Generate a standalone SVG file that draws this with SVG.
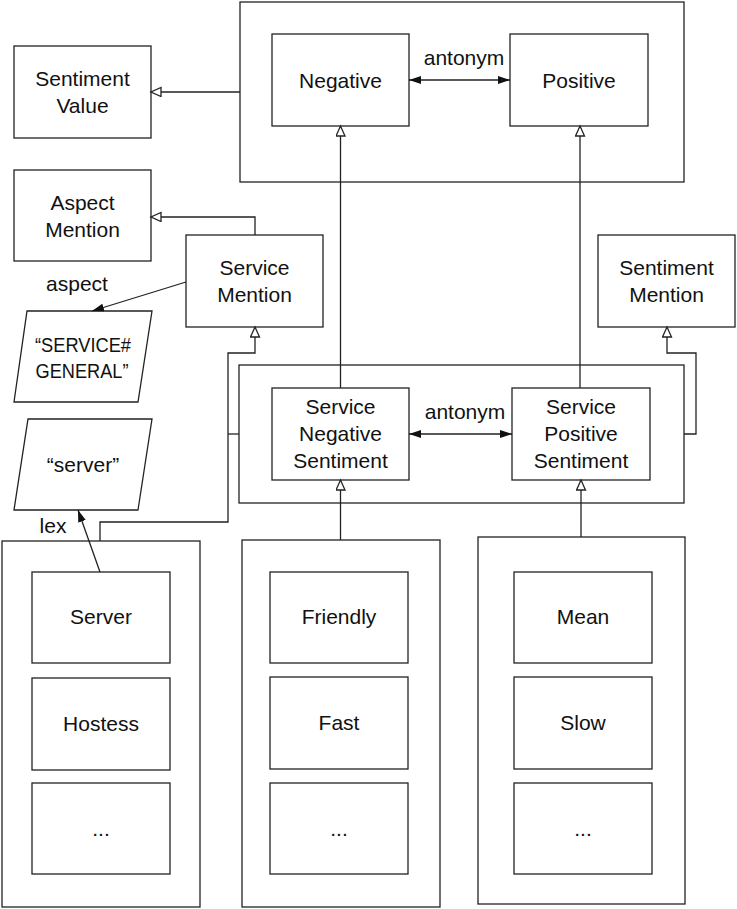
<svg xmlns="http://www.w3.org/2000/svg" width="737" height="909" viewBox="0 0 737 909">
<style>
rect.b, polygon.b { fill: #fff; stroke: #222; stroke-width: 1.3; }
text { font-family: "Liberation Sans", Arial, sans-serif; font-size: 21px; fill: #111; text-anchor: middle; }
.c { fill: none; stroke: #222; stroke-width: 1.3; }
</style>
<defs>
<marker id="hollow" markerUnits="userSpaceOnUse" markerWidth="14" markerHeight="12" refX="11" refY="5" orient="auto">
<path d="M1,0.5 L11,5 L1,9.5 Z" fill="#fff" stroke="#222" stroke-width="1.3"/>
</marker>
<marker id="filled" markerUnits="userSpaceOnUse" markerWidth="14" markerHeight="10" refX="12" refY="4" orient="auto-start-reverse">
<path d="M0,0 L12,4 L0,8 Z" fill="#111"/>
</marker>
</defs>

<g id="sentiment-value-group">
<rect class="b" x="240" y="2" width="444" height="180"/>
</g>
<g id="negative">
<rect class="b" x="272" y="34" width="137" height="92"/>
<text x="340.5" y="88">Negative</text>
</g>
<g id="positive">
<rect class="b" x="510" y="34" width="138" height="92"/>
<text x="579" y="88">Positive</text>
</g>
<g id="sentiment-value">
<rect class="b" x="14" y="46" width="137" height="92"/>
<text x="82.5" y="86">Sentiment</text>
<text x="82.5" y="113">Value</text>
</g>
<g id="aspect-mention">
<rect class="b" x="14" y="170" width="137" height="91"/>
<text x="82.5" y="210">Aspect</text>
<text x="82.5" y="237">Mention</text>
</g>
<g id="service-mention">
<rect class="b" x="186" y="235" width="137" height="92"/>
<text x="254.5" y="275">Service</text>
<text x="254.5" y="302">Mention</text>
</g>
<g id="sentiment-mention">
<rect class="b" x="598" y="235" width="137" height="92"/>
<text x="666.5" y="275">Sentiment</text>
<text x="666.5" y="302">Mention</text>
</g>
<g id="service-general">
<polygon class="b" points="27,311 152,311 138,402 14,402"/>
<text x="83" y="352" textLength="96" lengthAdjust="spacingAndGlyphs">“SERVICE#</text>
<text x="82" y="378" textLength="93" lengthAdjust="spacingAndGlyphs">GENERAL”</text>
</g>
<g id="server-literal">
<polygon class="b" points="28,419 152,419 138,510 14,510"/>
<text x="83" y="472">“server”</text>
</g>
<g id="service-sentiment-group">
<rect class="b" x="239" y="365" width="445" height="138"/>
</g>
<g id="service-negative-sentiment">
<rect class="b" x="272" y="388" width="137" height="92"/>
<text x="340.5" y="414">Service</text>
<text x="340.5" y="441">Negative</text>
<text x="340.5" y="468">Sentiment</text>
</g>
<g id="service-positive-sentiment">
<rect class="b" x="512" y="388" width="138" height="92"/>
<text x="581" y="414">Service</text>
<text x="581" y="441">Positive</text>
<text x="581" y="468">Sentiment</text>
</g>
<g id="service-words">
<rect class="b" x="2" y="541" width="198" height="366"/>
</g>
<g id="server">
<rect class="b" x="32" y="572" width="138" height="91"/>
<text x="101" y="624">Server</text>
</g>
<g id="hostess">
<rect class="b" x="32" y="678" width="138" height="92"/>
<text x="101" y="731">Hostess</text>
</g>
<g id="service-more">
<rect class="b" x="32" y="783" width="138" height="91"/>
<text x="101" y="836">...</text>
</g>
<g id="negative-words">
<rect class="b" x="242" y="540" width="198" height="367"/>
</g>
<g id="friendly">
<rect class="b" x="270" y="572" width="138" height="91"/>
<text x="339" y="624">Friendly</text>
</g>
<g id="fast">
<rect class="b" x="270" y="677" width="138" height="92"/>
<text x="339" y="730">Fast</text>
</g>
<g id="negative-more">
<rect class="b" x="270" y="783" width="138" height="91"/>
<text x="339" y="836">...</text>
</g>
<g id="positive-words">
<rect class="b" x="478" y="537" width="207" height="367"/>
</g>
<g id="mean">
<rect class="b" x="514" y="572" width="138" height="91"/>
<text x="583" y="624">Mean</text>
</g>
<g id="slow">
<rect class="b" x="514" y="677" width="138" height="92"/>
<text x="583" y="730">Slow</text>
</g>
<g id="positive-more">
<rect class="b" x="514" y="783" width="138" height="91"/>
<text x="583" y="836">...</text>
</g>

<g id="connectors">
<path class="c" d="M240,92 L151,92" marker-end="url(#hollow)"/>
<path class="c" d="M255,235 L255,217 L151,217" marker-end="url(#hollow)"/>
<path class="c" d="M186,282 L92,311" marker-end="url(#filled)"/>
<path class="c" d="M340.5,388 L340.5,126" marker-end="url(#hollow)"/>
<path class="c" d="M580,388 L580,126" marker-end="url(#hollow)"/>
<path class="c" d="M409,80 L510,80" marker-start="url(#filled)" marker-end="url(#filled)"/>
<path class="c" d="M409,434 L512,434" marker-start="url(#filled)" marker-end="url(#filled)"/>
<path class="c" d="M100,541 L100,522 L228,522 L228,353 L255,353 L255,327" marker-end="url(#hollow)"/>
<path class="c" d="M239,434 L228,434"/>
<path class="c" d="M684,434 L696,434 L696,353 L667,353 L667,327" marker-end="url(#hollow)"/>
<path class="c" d="M340.5,540 L340.5,480" marker-end="url(#hollow)"/>
<path class="c" d="M581,537 L581,480" marker-end="url(#hollow)"/>
<path class="c" d="M100,572 L78,510" marker-end="url(#filled)"/>
<text x="464" y="65">antonym</text>
<text x="465" y="419">antonym</text>
<text x="77" y="291">aspect</text>
<text x="53" y="533">lex</text>
</g>
</svg>
